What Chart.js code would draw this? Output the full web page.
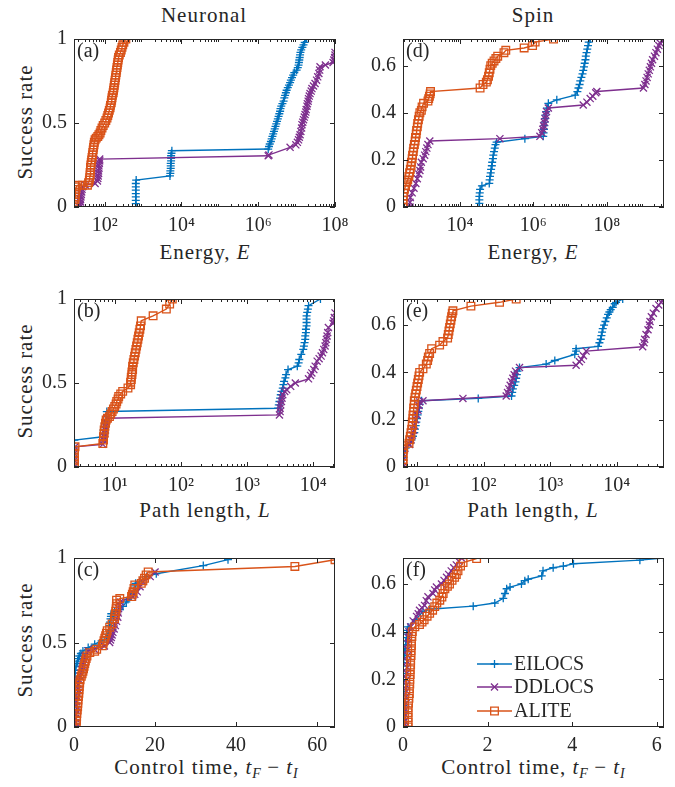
<!DOCTYPE html>
<html>
<head>
<meta charset="utf-8">
<script src="https://cdn.jsdelivr.net/npm/chart.js@4.4.1/dist/chart.umd.min.js"></script>
<style>
body { margin: 0; background: #fff; }
#fig { position: relative; width: 675px; height: 787px; overflow: hidden; font-family: 'Liberation Serif', serif; color: #262626; }
#fig canvas { position: absolute; }
.lbl { position: absolute; font-size: 21px; letter-spacing: 1px; white-space: nowrap; transform: translate(-50%, -50%); }
.ylbl { transform: translate(-50%, -50%) rotate(-90deg); }
.lbl sub { font-size: 14px; vertical-align: -4px; letter-spacing: 0; }
</style>
</head>
<body>
<div id="fig">
  <div class="lbl" style="left:204px;top:15px">Neuronal</div>
  <div class="lbl" style="left:533px;top:15px">Spin</div>
  <div class="lbl ylbl" style="left:25px;top:122px">Success rate</div>
  <div class="lbl ylbl" style="left:25px;top:381px">Success rate</div>
  <div class="lbl ylbl" style="left:25px;top:640px">Success rate</div>
  <div class="lbl" style="left:205px;top:252px">Energy, <i>E</i></div>
  <div class="lbl" style="left:533px;top:252px">Energy, <i>E</i></div>
  <div class="lbl" style="left:205px;top:510px">Path length, <i>L</i></div>
  <div class="lbl" style="left:533px;top:510px">Path length, <i>L</i></div>
  <div class="lbl" style="left:206px;top:768px">Control time, <i>t</i><sub><i>F</i></sub> − <i>t</i><sub><i>I</i></sub></div>
  <div class="lbl" style="left:533px;top:768px">Control time, <i>t</i><sub><i>F</i></sub> − <i>t</i><sub><i>I</i></sub></div>
</div>
<script>
// methods (legend order)
var methods = ['EILOCS', 'DDLOCS', 'ALITE'];

// (a) neuronal, energy: [log10 E, success rate]
var neuEnergyEIL = [[2.81,0],[2.81,0.02],[2.81,0.04],[2.81,0.06],[2.81,0.08],[2.81,0.10],[2.81,0.12],[2.81,0.14],[2.82,0.16],[3.70,0.185],[3.71,0.20],[3.71,0.215],[3.72,0.23],[3.72,0.245],[3.72,0.26],[3.73,0.275],[3.73,0.29],[3.73,0.305],[3.74,0.32],[3.75,0.335],[6.26,0.345],[6.28,0.36],[6.30,0.375],[6.33,0.39],[6.35,0.405],[6.37,0.42],[6.39,0.435],[6.41,0.45],[6.43,0.465],[6.45,0.48],[6.47,0.495],[6.49,0.51],[6.51,0.525],[6.53,0.54],[6.55,0.555],[6.57,0.57],[6.58,0.585],[6.6,0.6],[6.63,0.615],[6.66,0.63],[6.68,0.65],[6.7,0.665],[6.72,0.68],[6.74,0.695],[6.77,0.71],[6.8,0.725],[6.83,0.74],[6.85,0.755],[6.88,0.77],[6.91,0.785],[6.94,0.8],[7.0,0.815],[7.03,0.83],[7.05,0.845],[7.06,0.86],[7.07,0.875],[7.08,0.89],[7.09,0.905],[7.1,0.92],[7.12,0.935],[7.15,0.95],[7.18,0.965],[7.21,0.98],[7.26,1.0]];
var neuEnergyDDL = [[1.35,0],[1.36,0.015],[1.37,0.03],[1.37,0.045],[1.38,0.06],[1.39,0.075],[1.40,0.09],[1.41,0.105],[1.42,0.12],[1.5,0.13],[1.75,0.14],[1.81,0.155],[1.82,0.17],[1.83,0.185],[1.84,0.2],[1.84,0.215],[1.85,0.23],[1.85,0.245],[1.86,0.26],[1.87,0.275],[1.87,0.285],[6.26,0.305],[6.28,0.31],[6.83,0.355],[6.98,0.37],[7.02,0.385],[7.05,0.40],[7.07,0.415],[7.09,0.43],[7.11,0.45],[7.13,0.47],[7.14,0.49],[7.16,0.505],[7.18,0.52],[7.2,0.535],[7.22,0.55],[7.24,0.565],[7.25,0.58],[7.27,0.6],[7.28,0.615],[7.3,0.63],[7.31,0.645],[7.33,0.66],[7.35,0.675],[7.38,0.69],[7.4,0.705],[7.44,0.72],[7.48,0.735],[7.52,0.755],[7.55,0.775],[7.58,0.795],[7.6,0.815],[7.61,0.835],[7.75,0.845],[7.95,0.86],[7.97,0.875],[7.99,0.89],[8.0,0.905],[8.0,0.92]];
var neuEnergyALI = [[1.21,0],[1.21,0.015],[1.22,0.03],[1.22,0.045],[1.23,0.06],[1.23,0.075],[1.24,0.09],[1.25,0.105],[1.26,0.12],[1.3,0.13],[1.42,0.13],[1.55,0.13],[1.58,0.145],[1.6,0.16],[1.61,0.175],[1.62,0.19],[1.62,0.205],[1.63,0.22],[1.63,0.235],[1.64,0.25],[1.65,0.265],[1.66,0.28],[1.67,0.295],[1.68,0.31],[1.69,0.325],[1.70,0.34],[1.71,0.355],[1.72,0.37],[1.73,0.385],[1.75,0.40],[1.78,0.41],[1.82,0.42],[1.85,0.43],[1.88,0.44],[1.9,0.455],[1.93,0.47],[1.96,0.485],[2.0,0.5],[2.03,0.515],[2.06,0.53],[2.08,0.545],[2.1,0.56],[2.12,0.575],[2.14,0.59],[2.15,0.605],[2.17,0.62],[2.18,0.635],[2.19,0.65],[2.2,0.665],[2.22,0.68],[2.23,0.695],[2.24,0.71],[2.25,0.725],[2.26,0.74],[2.27,0.755],[2.28,0.77],[2.29,0.785],[2.3,0.8],[2.31,0.815],[2.32,0.83],[2.33,0.845],[2.34,0.86],[2.35,0.875],[2.36,0.89],[2.38,0.905],[2.41,0.92],[2.43,0.935],[2.45,0.95],[2.47,0.965],[2.5,0.98],[2.55,1.0]];

// (d) spin, energy
var spinEnergyEIL = [[4.53,0],[4.53,0.015],[4.53,0.03],[4.53,0.045],[4.54,0.06],[4.55,0.075],[4.6,0.09],[4.8,0.10],[4.81,0.115],[4.82,0.13],[4.84,0.145],[4.85,0.16],[4.87,0.175],[4.88,0.19],[4.9,0.205],[4.91,0.22],[4.93,0.235],[4.95,0.25],[4.97,0.265],[5.0,0.275],[5.77,0.29],[6.27,0.30],[6.28,0.315],[6.29,0.33],[6.3,0.345],[6.31,0.36],[6.32,0.375],[6.33,0.39],[6.35,0.405],[6.37,0.42],[6.41,0.44],[6.64,0.455],[7.14,0.475],[7.2,0.49],[7.23,0.505],[7.26,0.52],[7.28,0.535],[7.31,0.55],[7.34,0.565],[7.36,0.58],[7.38,0.595],[7.4,0.61],[7.42,0.625],[7.43,0.64],[7.45,0.655],[7.47,0.67],[7.49,0.685],[7.51,0.70],[7.55,0.713]];
var spinEnergyDDL = [[2.64,0],[2.64,0.02],[2.65,0.04],[2.7,0.06],[2.75,0.08],[2.8,0.1],[2.84,0.12],[2.88,0.14],[2.91,0.155],[2.93,0.17],[2.95,0.19],[3.0,0.205],[3.04,0.22],[3.07,0.235],[3.1,0.25],[3.13,0.265],[3.18,0.28],[5.09,0.29],[6.18,0.30],[6.23,0.315],[6.26,0.33],[6.28,0.345],[6.3,0.36],[6.32,0.375],[6.34,0.39],[6.36,0.405],[6.41,0.42],[7.36,0.433],[7.46,0.445],[7.55,0.46],[7.62,0.47],[7.7,0.485],[7.73,0.49],[9.0,0.505],[9.04,0.52],[9.07,0.535],[9.1,0.55],[9.13,0.565],[9.16,0.58],[9.19,0.595],[9.22,0.61],[9.25,0.625],[9.3,0.64],[9.34,0.655],[9.38,0.67],[9.42,0.685],[9.46,0.695],[9.5,0.706]];
var spinEnergyALI = [[2.45,0],[2.45,0.015],[2.45,0.03],[2.46,0.045],[2.47,0.06],[2.49,0.075],[2.52,0.09],[2.55,0.105],[2.58,0.115],[2.61,0.13],[2.63,0.145],[2.65,0.16],[2.67,0.175],[2.68,0.19],[2.7,0.205],[2.71,0.22],[2.73,0.235],[2.74,0.25],[2.76,0.265],[2.78,0.28],[2.79,0.295],[2.81,0.31],[2.82,0.325],[2.84,0.34],[2.85,0.355],[2.87,0.37],[2.89,0.385],[2.91,0.40],[2.95,0.41],[2.97,0.425],[3.01,0.44],[3.13,0.45],[3.15,0.46],[3.17,0.47],[3.19,0.48],[3.2,0.49],[4.55,0.505],[4.63,0.52],[4.72,0.53],[4.75,0.54],[4.78,0.555],[4.8,0.57],[4.82,0.585],[4.84,0.6],[4.88,0.61],[4.93,0.62],[4.98,0.63],[5.03,0.64],[5.2,0.655],[5.25,0.665],[5.75,0.675],[5.98,0.685],[6.05,0.70],[6.55,0.713]];

// (b) neuronal, path length: [log10 L, success rate]
var neuPathEIL = [[0.39,0],[0.39,0.04],[0.39,0.08],[0.39,0.12],[0.39,0.16],[0.82,0.18],[0.83,0.20],[0.83,0.22],[0.84,0.24],[0.85,0.26],[0.86,0.28],[0.87,0.30],[0.88,0.33],[3.47,0.35],[3.48,0.37],[3.49,0.39],[3.5,0.41],[3.51,0.43],[3.52,0.45],[3.54,0.47],[3.55,0.49],[3.56,0.51],[3.58,0.53],[3.59,0.55],[3.62,0.58],[3.76,0.6],[3.78,0.62],[3.79,0.64],[3.82,0.67],[3.85,0.7],[3.86,0.72],[3.87,0.74],[3.88,0.76],[3.88,0.78],[3.89,0.8],[3.89,0.82],[3.9,0.84],[3.9,0.86],[3.9,0.88],[3.9,0.9],[3.91,0.92],[3.92,0.94],[3.93,0.96],[4.11,1.0]];
var neuPathDDL = [[0.39,0],[0.39,0.04],[0.39,0.08],[0.40,0.12],[0.82,0.135],[0.83,0.16],[0.84,0.18],[0.85,0.2],[0.86,0.22],[0.86,0.24],[0.87,0.26],[0.88,0.29],[3.49,0.31],[3.5,0.33],[3.5,0.35],[3.51,0.37],[3.52,0.39],[3.53,0.41],[3.54,0.43],[3.57,0.45],[3.6,0.46],[3.66,0.48],[3.73,0.50],[3.93,0.525],[3.96,0.545],[3.98,0.56],[4.01,0.58],[4.03,0.60],[4.06,0.63],[4.09,0.645],[4.12,0.66],[4.14,0.68],[4.16,0.70],[4.18,0.72],[4.19,0.74],[4.2,0.76],[4.21,0.78],[4.22,0.8],[4.23,0.83],[4.3,0.855],[4.31,0.87],[4.32,0.89],[4.33,0.917]];
var neuPathALI = [[0.39,0],[0.39,0.02],[0.39,0.04],[0.39,0.06],[0.39,0.08],[0.39,0.1],[0.40,0.12],[0.82,0.14],[0.83,0.16],[0.83,0.18],[0.84,0.20],[0.84,0.22],[0.85,0.24],[0.86,0.26],[0.87,0.28],[0.89,0.29],[0.92,0.30],[0.94,0.315],[0.96,0.33],[0.98,0.345],[1.0,0.36],[1.02,0.375],[1.03,0.39],[1.05,0.405],[1.06,0.42],[1.09,0.435],[1.12,0.45],[1.2,0.47],[1.24,0.49],[1.24,0.505],[1.25,0.52],[1.25,0.535],[1.26,0.55],[1.26,0.565],[1.27,0.58],[1.27,0.6],[1.28,0.62],[1.29,0.64],[1.3,0.66],[1.31,0.68],[1.32,0.70],[1.33,0.72],[1.34,0.74],[1.35,0.76],[1.36,0.78],[1.37,0.8],[1.38,0.82],[1.39,0.84],[1.4,0.87],[1.58,0.90],[1.78,0.94],[1.83,0.97],[1.87,1.0]];

// (e) spin, path length
var spinPathEIL = [[0.79,0],[0.80,0.04],[0.83,0.08],[0.9,0.10],[0.92,0.115],[0.94,0.13],[0.96,0.145],[0.97,0.16],[0.98,0.175],[0.99,0.19],[1.0,0.205],[1.01,0.22],[1.02,0.235],[1.03,0.25],[1.04,0.265],[1.07,0.28],[1.92,0.29],[2.42,0.30],[2.43,0.315],[2.44,0.33],[2.46,0.345],[2.48,0.36],[2.49,0.375],[2.5,0.39],[2.51,0.405],[2.54,0.42],[2.94,0.435],[3.07,0.45],[3.37,0.476],[3.39,0.49],[3.39,0.50],[3.72,0.51],[3.74,0.525],[3.76,0.54],[3.77,0.555],[3.78,0.57],[3.79,0.585],[3.81,0.6],[3.83,0.615],[3.85,0.63],[3.87,0.645],[3.89,0.655],[3.91,0.665],[3.94,0.675],[3.97,0.69],[3.99,0.696],[4.09,0.71]];
var spinPathDDL = [[0.79,0],[0.80,0.04],[0.82,0.08],[0.89,0.095],[0.91,0.115],[0.93,0.135],[0.95,0.155],[0.96,0.175],[0.98,0.2],[1.0,0.22],[1.015,0.24],[1.03,0.26],[1.04,0.275],[1.09,0.28],[1.69,0.29],[2.34,0.30],[2.36,0.315],[2.38,0.33],[2.4,0.345],[2.42,0.36],[2.44,0.375],[2.46,0.39],[2.48,0.405],[2.54,0.42],[3.39,0.43],[3.44,0.445],[3.47,0.455],[3.5,0.47],[3.54,0.49],[4.39,0.508],[4.41,0.525],[4.42,0.54],[4.44,0.56],[4.47,0.58],[4.49,0.6],[4.5,0.615],[4.52,0.635],[4.55,0.65],[4.59,0.67],[4.63,0.685],[4.67,0.696],[4.7,0.71]];
var spinPathALI = [[0.79,0],[0.79,0.015],[0.79,0.03],[0.79,0.045],[0.79,0.06],[0.80,0.075],[0.80,0.09],[0.88,0.10],[0.89,0.115],[0.9,0.13],[0.91,0.145],[0.92,0.16],[0.93,0.175],[0.93,0.19],[0.94,0.205],[0.94,0.22],[0.95,0.235],[0.95,0.25],[0.96,0.265],[0.96,0.28],[0.97,0.295],[0.98,0.31],[0.99,0.325],[1.0,0.34],[1.01,0.355],[1.02,0.37],[1.03,0.385],[1.04,0.40],[1.09,0.415],[1.14,0.435],[1.16,0.45],[1.17,0.465],[1.19,0.48],[1.22,0.50],[1.34,0.515],[1.39,0.53],[1.46,0.545],[1.47,0.56],[1.48,0.575],[1.49,0.59],[1.5,0.605],[1.51,0.62],[1.52,0.635],[1.53,0.65],[1.54,0.66],[1.81,0.68],[2.24,0.696],[2.49,0.71]];

// (c) neuronal, control time: [tF - tI, success rate]
var neuTimeEIL = [[0.1,0],[0.1,0.02],[0.1,0.04],[0.1,0.06],[0.1,0.08],[0.1,0.1],[0.12,0.12],[0.12,0.14],[0.13,0.16],[0.14,0.18],[0.15,0.2],[0.16,0.22],[0.17,0.24],[0.18,0.26],[0.2,0.28],[0.22,0.3],[0.25,0.32],[0.3,0.335],[0.5,0.36],[0.7,0.375],[0.9,0.39],[1.1,0.405],[1.3,0.42],[1.7,0.435],[2.2,0.45],[3.5,0.47],[5.1,0.49],[6.8,0.51],[8.0,0.52],[8.2,0.535],[8.4,0.55],[8.6,0.575],[8.8,0.60],[8.9,0.62],[9.0,0.64],[9.1,0.655],[9.2,0.67],[10.0,0.685],[11.3,0.695],[12.1,0.714],[12.9,0.74],[13.3,0.755],[14.0,0.77],[14.6,0.79],[14.8,0.805],[15.0,0.82],[15.1,0.835],[15.2,0.85],[16.2,0.86],[17.9,0.89],[20.3,0.907],[31.9,0.955],[38.0,0.99]];
var neuTimeDDL = [[0.3,0],[0.35,0.025],[0.4,0.05],[0.45,0.075],[0.5,0.1],[0.55,0.125],[0.6,0.15],[0.7,0.175],[0.8,0.2],[0.9,0.225],[1.0,0.25],[1.2,0.275],[1.5,0.3],[1.7,0.32],[1.9,0.34],[2.1,0.36],[2.3,0.38],[2.5,0.4],[2.7,0.42],[3.5,0.45],[5.0,0.46],[7.5,0.48],[8.8,0.5],[9.0,0.515],[9.2,0.53],[9.4,0.545],[9.6,0.56],[9.9,0.58],[10.2,0.6],[10.5,0.625],[10.8,0.65],[10.9,0.675],[11.0,0.7],[11.2,0.72],[11.4,0.74],[14.5,0.77],[15.0,0.785],[15.6,0.8],[16.3,0.83],[17.0,0.86],[18.8,0.89],[20.0,0.917]];
var neuTimeALI = [[0.5,0],[0.55,0.02],[0.6,0.04],[0.65,0.06],[0.7,0.08],[0.8,0.1],[0.9,0.12],[0.95,0.14],[1.0,0.16],[1.1,0.18],[1.2,0.2],[1.25,0.22],[1.3,0.24],[1.4,0.26],[1.5,0.28],[1.8,0.3],[2.0,0.315],[2.2,0.33],[2.35,0.345],[2.5,0.36],[2.65,0.375],[2.8,0.39],[3.0,0.405],[3.2,0.42],[3.9,0.44],[5.1,0.448],[5.6,0.46],[7.0,0.48],[7.2,0.495],[7.4,0.51],[7.6,0.525],[7.8,0.54],[8.0,0.555],[8.2,0.57],[8.8,0.59],[9.4,0.61],[10.0,0.64],[10.1,0.655],[10.2,0.67],[10.3,0.685],[10.4,0.70],[10.45,0.715],[10.5,0.73],[10.5,0.75],[11.3,0.76],[14.2,0.772],[14.4,0.785],[14.6,0.80],[14.8,0.82],[15.0,0.84],[16.6,0.85],[17.0,0.865],[17.4,0.88],[17.8,0.9],[18.3,0.917],[54.5,0.95],[64.4,0.99]];

// (f) spin, control time
var spinTimeEIL = [[0,0],[0,0.015],[0,0.03],[0,0.045],[0,0.06],[0,0.075],[0,0.09],[0,0.105],[0,0.12],[0,0.135],[0,0.15],[0,0.165],[0,0.18],[0,0.195],[0,0.21],[0,0.225],[0,0.24],[0,0.255],[0.01,0.27],[0.02,0.285],[0.03,0.3],[0.04,0.315],[0.05,0.33],[0.06,0.345],[0.07,0.36],[0.08,0.375],[0.09,0.39],[0.1,0.405],[0.12,0.42],[0.3,0.45],[0.47,0.484],[0.63,0.494],[1.66,0.507],[2.17,0.52],[2.37,0.54],[2.41,0.56],[2.45,0.58],[2.53,0.587],[2.8,0.6],[2.88,0.614],[2.96,0.62],[3.28,0.634],[3.31,0.655],[3.55,0.668],[3.79,0.675],[4.03,0.685],[5.6,0.70],[6.16,0.709]];
var spinTimeDDL = [[0.05,0],[0.05,0.025],[0.06,0.05],[0.06,0.075],[0.07,0.1],[0.07,0.125],[0.08,0.15],[0.08,0.175],[0.09,0.2],[0.09,0.225],[0.1,0.25],[0.1,0.275],[0.11,0.3],[0.11,0.325],[0.12,0.35],[0.13,0.375],[0.14,0.4],[0.18,0.42],[0.24,0.445],[0.32,0.464],[0.36,0.475],[0.39,0.49],[0.45,0.5],[0.51,0.51],[0.55,0.53],[0.59,0.546],[0.71,0.56],[0.75,0.575],[0.79,0.587],[0.91,0.6],[0.97,0.615],[1.03,0.628],[1.08,0.64],[1.14,0.655],[1.2,0.668],[1.26,0.68],[1.32,0.695],[1.38,0.709]];
var spinTimeALI = [[0.12,0],[0.12,0.02],[0.12,0.04],[0.12,0.06],[0.12,0.08],[0.13,0.1],[0.14,0.12],[0.15,0.14],[0.15,0.16],[0.16,0.18],[0.16,0.2],[0.17,0.22],[0.17,0.24],[0.18,0.26],[0.18,0.28],[0.19,0.3],[0.19,0.32],[0.2,0.34],[0.2,0.36],[0.21,0.38],[0.22,0.4],[0.28,0.42],[0.39,0.43],[0.45,0.44],[0.5,0.45],[0.57,0.465],[0.63,0.477],[0.7,0.49],[0.75,0.505],[0.8,0.52],[0.87,0.532],[0.92,0.545],[0.95,0.56],[0.99,0.58],[1.05,0.59],[1.1,0.6],[1.16,0.615],[1.22,0.628],[1.26,0.64],[1.3,0.655],[1.36,0.675],[1.42,0.69],[1.74,0.707]];

// tick labels
var ticksEnergyNeu = [2, 4, 6, 8];      // exponents
var ticksEnergySpin = [4, 6, 8];
var ticksPath = [1, 2, 3, 4];
var ticksTimeNeu = [0, 20, 40, 60];
var ticksTimeSpin = [0, 2, 4, 6];
var ticksRateNeu = [0, 0.5, 1];
var ticksRateSpin = [0, 0.2, 0.4, 0.6];

Chart.defaults.font.family = "'Liberation Serif', serif";
Chart.defaults.font.size = 20;
Chart.defaults.color = '#262626';

var colors = ['#0072BD', '#7E2F8E', '#D95319'];
var markers = ['cross', 'crossRot', 'rect'];
var markerRadius = [4, 5, 5.4];
var sup = { 1: '\u00b9', 2: '\u00b2', 3: '\u00b3', 4: '\u2074', 6: '\u2076', 8: '\u2078' };

var framePlugin = {
    id: 'frame',
    afterDatasetsDraw: function (chart, args, opts) {
        var ctx = chart.ctx, a = chart.chartArea;
        var xs = chart.scales.x, ys = chart.scales.y;
        ctx.save();
        ctx.strokeStyle = '#262626';
        ctx.lineWidth = 1;
        ctx.strokeRect(a.left + 0.5, a.top + 0.5, a.right - a.left - 1, a.bottom - a.top - 1);
        ctx.beginPath();
        xs.ticks.forEach(function (t) {
            var px = Math.round(xs.getPixelForValue(t.value)) + 0.5;
            ctx.moveTo(px, a.bottom); ctx.lineTo(px, a.bottom - 5);
            ctx.moveTo(px, a.top); ctx.lineTo(px, a.top + 5);
        });
        ys.ticks.forEach(function (t) {
            var py = Math.round(ys.getPixelForValue(t.value)) + 0.5;
            ctx.moveTo(a.left, py); ctx.lineTo(a.left + 5, py);
            ctx.moveTo(a.right, py); ctx.lineTo(a.right - 5, py);
        });
        // minor ticks on log axes
        if (xs.type === 'logarithmic') {
            var lo = Math.floor(Math.log10(xs.min)), hi = Math.ceil(Math.log10(xs.max));
            for (var n = lo; n <= hi; n++) {
                for (var k = 2; k <= 9; k++) {
                    var v = k * Math.pow(10, n);
                    if (v <= xs.min || v >= xs.max) continue;
                    var px = Math.round(xs.getPixelForValue(v)) + 0.5;
                    ctx.moveTo(px, a.bottom); ctx.lineTo(px, a.bottom - 3);
                    ctx.moveTo(px, a.top); ctx.lineTo(px, a.top + 3);
                }
            }
        }
        ctx.stroke();
        ctx.fillStyle = '#262626';
        ctx.font = "20px 'Liberation Serif'";
        ctx.textBaseline = 'middle';
        ctx.textAlign = 'left';
        ctx.fillText(opts.tag, a.left + 3, a.top + 13);
        ctx.restore();
    }
};

function drawMarker(ctx, style, x, y, r) {
    ctx.beginPath();
    if (style === 'cross') {
        ctx.moveTo(x - r, y); ctx.lineTo(x + r, y);
        ctx.moveTo(x, y - r); ctx.lineTo(x, y + r);
    } else if (style === 'crossRot') {
        var d = r * 0.707;
        ctx.moveTo(x - d, y - d); ctx.lineTo(x + d, y + d);
        ctx.moveTo(x - d, y + d); ctx.lineTo(x + d, y - d);
    } else {
        var s = r * 0.707;
        ctx.rect(x - s, y - s, 2 * s, 2 * s);
    }
    ctx.stroke();
}

var legendPlugin = {
    id: 'mlegend',
    afterDraw: function (chart) {
        var ctx = chart.ctx, a = chart.chartArea;
        var rows = [106, 129, 153];
        ctx.save();
        ctx.font = "20px 'Liberation Serif'";
        ctx.textBaseline = 'middle';
        ctx.textAlign = 'left';
        for (var i = 0; i < methods.length; i++) {
            var y = a.top + rows[i];
            ctx.strokeStyle = colors[i];
            ctx.lineWidth = 1.6;
            ctx.beginPath();
            ctx.moveTo(a.left + 74, y); ctx.lineTo(a.left + 109, y);
            ctx.stroke();
            ctx.lineWidth = 1.3;
            drawMarker(ctx, markers[i], a.left + 91.5, y, markerRadius[i]);
            ctx.fillStyle = '#262626';
            ctx.fillText(methods[i], a.left + 111, y + 1);
        }
        ctx.restore();
    }
};

function makePanel(tag, box, isLog, xMin, xMax, xTicks, yMax, yTicks, series, extra) {
    var padL = 70, padT = 15, padR = 25, padB = 40;
    var cv = document.createElement('canvas');
    var w = box[2] - box[0] + padL + padR, h = box[3] - box[1] + padT + padB;
    cv.width = w; cv.height = h;
    cv.style.left = (box[0] - padL) + 'px';
    cv.style.top = (box[1] - padT) + 'px';
    cv.style.width = w + 'px'; cv.style.height = h + 'px';
    document.getElementById('fig').appendChild(cv);

    var datasets = series.map(function (pts, i) {
        return {
            label: methods[i],
            data: pts.map(function (p) { return { x: isLog ? Math.pow(10, p[0]) : p[0], y: p[1] }; }),
            borderColor: colors[i],
            backgroundColor: 'rgba(0,0,0,0)',
            borderWidth: 1.4,
            pointStyle: markers[i],
            pointRadius: markerRadius[i],
            pointBorderWidth: 1.3,
            pointBorderColor: colors[i],
            pointBackgroundColor: 'rgba(0,0,0,0)',
            tension: 0,
            order: 3 - i
        };
    });

    var plugins = [framePlugin];
    if (extra) plugins.push(extra);

    return new Chart(cv.getContext('2d'), {
        type: 'line',
        data: { datasets: datasets },
        options: {
            responsive: false,
            animation: false,
            events: [],
            layout: { padding: { top: padT, right: padR, left: 0, bottom: 0 } },
            plugins: {
                legend: { display: false },
                tooltip: { enabled: false },
                frame: { tag: tag }
            },
            scales: {
                x: {
                    type: isLog ? 'logarithmic' : 'linear',
                    min: isLog ? Math.pow(10, xMin) : xMin,
                    max: isLog ? Math.pow(10, xMax) : xMax,
                    grid: { display: false, drawTicks: false },
                    border: { display: false },
                    ticks: {
                        padding: 7,
                        maxRotation: 0,
                        autoSkip: false,
                        callback: function (value) {
                            if (isLog) return '10' + sup[Math.round(Math.log10(value))];
                            return String(value);
                        }
                    },
                    afterBuildTicks: function (s) {
                        s.ticks = xTicks.map(function (v) { return { value: isLog ? Math.pow(10, v) : v }; });
                    },
                    afterFit: function (s) { s.height = padB; }
                },
                y: {
                    type: 'linear',
                    min: 0,
                    max: yMax,
                    grid: { display: false, drawTicks: false },
                    border: { display: false },
                    ticks: { padding: 7, callback: function (v) { return String(v); } },
                    afterBuildTicks: function (s) {
                        s.ticks = yTicks.map(function (v) { return { value: v }; });
                    },
                    afterFit: function (s) { s.width = padL; }
                }
            }
        },
        plugins: plugins
    });
}

makePanel('(a)', [74, 35, 335, 207], true, 1.2, 8, ticksEnergyNeu, 1, ticksRateNeu, [neuEnergyEIL, neuEnergyDDL, neuEnergyALI]);
makePanel('(d)', [403, 35, 664, 207], true, 2.45, 9.56, ticksEnergySpin, 0.713, ticksRateSpin, [spinEnergyEIL, spinEnergyDDL, spinEnergyALI]);
makePanel('(b)', [74, 295, 335, 467], true, 0.384, 4.33, ticksPath, 1, ticksRateNeu, [neuPathEIL, neuPathDDL, neuPathALI]);
makePanel('(e)', [403, 295, 664, 467], true, 0.79, 4.71, ticksPath, 0.71, ticksRateSpin, [spinPathEIL, spinPathDDL, spinPathALI]);
makePanel('(c)', [74, 554, 335, 727], false, 0, 64.4, ticksTimeNeu, 1, ticksRateNeu, [neuTimeEIL, neuTimeDDL, neuTimeALI]);
makePanel('(f)', [403, 554, 664, 727], false, 0, 6.17, ticksTimeSpin, 0.709, ticksRateSpin, [spinTimeEIL, spinTimeDDL, spinTimeALI], legendPlugin);
</script>
</body>
</html>
